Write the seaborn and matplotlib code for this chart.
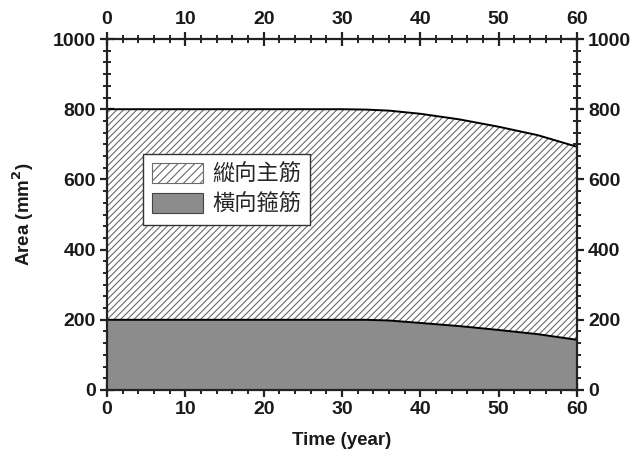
import matplotlib
matplotlib.use("Agg")
import matplotlib.pyplot as plt
import seaborn as sns
import pandas as pd
from matplotlib.patches import Patch
from matplotlib.ticker import MultipleLocator, AutoMinorLocator

years = [0, 5, 10, 15, 20, 25, 30, 33, 36, 40, 45, 50, 55, 60]
longitudinal_top = [800, 800, 800, 800, 800, 800, 800, 799, 796, 787, 771, 750, 726, 693]
transverse_top = [200, 200, 200, 200, 200, 200, 200, 200, 198, 191, 182, 171, 159, 143]
legend_labels = ["縱向主筋", "橫向箍筋"]
xlabel = "Time (year)"
ylabel = "Area (mm$^\\mathbf{2}$)"

sns.set_theme(style="ticks")
plt.rcParams["font.family"] = ["Liberation Sans", "Noto Sans CJK TC", "DejaVu Sans"]
plt.rcParams["hatch.color"] = "#6a6a6a"
plt.rcParams["hatch.linewidth"] = 0.8
plt.rcParams["mathtext.default"] = "bf"

df = pd.DataFrame({"year": years, "top": longitudinal_top, "bottom": transverse_top})

fig = plt.figure(figsize=(6.33, 4.58), dpi=100)
ax = fig.add_axes([0.169, 0.1485, 0.7425, 0.7663])

grey = "#8c8c8c"
HATCH = "/////"
ax.fill_between(df["year"], 0, df["bottom"], facecolor=grey, edgecolor="none", zorder=1)
ax.fill_between(df["year"], df["bottom"], df["top"], facecolor="white", hatch=HATCH,
                edgecolor="#6a6a6a", linewidth=0, zorder=1)
sns.lineplot(data=df, x="year", y="top", color="black", linewidth=1.4, ax=ax, zorder=3)
sns.lineplot(data=df, x="year", y="bottom", color="black", linewidth=1.4, ax=ax, zorder=3)

ax.set_xlim(0, 60)
ax.set_ylim(0, 1000)
ax.xaxis.set_major_locator(MultipleLocator(10))
ax.xaxis.set_minor_locator(AutoMinorLocator(5))
ax.yaxis.set_major_locator(MultipleLocator(200))
ax.yaxis.set_minor_locator(AutoMinorLocator(6))

for s in ax.spines.values():
    s.set_linewidth(1.6)
    s.set_color("#222222")
    s.set_zorder(4)

ax.tick_params(which="both", direction="inout", top=True, right=True,
               labeltop=True, labelright=True, color="#222222", labelcolor="#1a1a1a")
ax.tick_params(which="major", length=10, width=1.6, labelsize=14, pad=3)
ax.tick_params(which="minor", length=6, width=1.4)

ax.set_xlabel(xlabel, fontsize=13.5, fontweight="bold", labelpad=10, color="#1a1a1a")
ax.set_ylabel(ylabel, fontsize=13.5, fontweight="bold", labelpad=12, color="#1a1a1a")
ax.grid(False)

handles = [Patch(facecolor="white", edgecolor="#6a6a6a", hatch="////", linewidth=0.8),
           Patch(facecolor=grey, edgecolor="#444444", linewidth=0.8)]
leg = ax.legend(handles, legend_labels, loc="upper left", bbox_to_anchor=(0.077, 0.672),
                frameon=True, fancybox=False, framealpha=1, edgecolor="#333333",
                prop={"family": ["Noto Sans CJK TC"], "size": 16},
                handlelength=2.3, handleheight=1.0, handletextpad=0.4,
                borderpad=0.4, labelspacing=0.3, borderaxespad=0)
leg.get_frame().set_linewidth(1.0)
leg.set_zorder(5)

fig.canvas.draw()
for t in ax.xaxis.get_major_ticks() + ax.yaxis.get_major_ticks():
    t.label1.set_fontweight("bold")
    t.label2.set_fontweight("bold")

fig.savefig("out.png", dpi=100)
